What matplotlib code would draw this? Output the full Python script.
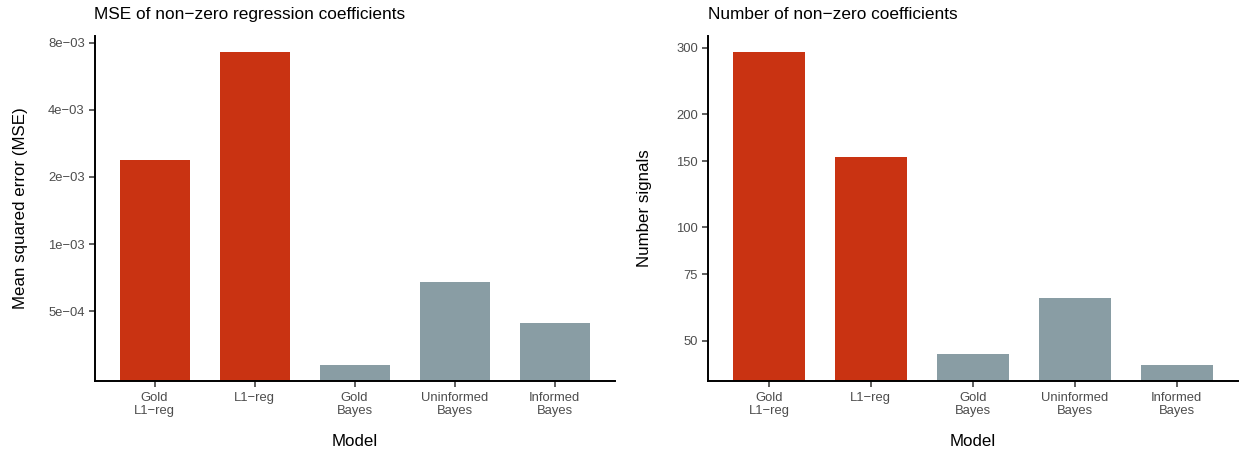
import numpy as np
import matplotlib
matplotlib.use("Agg")
import matplotlib.pyplot as plt
from matplotlib.ticker import FixedLocator, NullLocator

# Data
models = ["Gold\nL1\u2212reg", "L1\u2212reg", "Gold\nBayes", "Uninformed\nBayes", "Informed\nBayes"]
mse_values = [2.38e-3, 7.29e-3, 2.86e-4, 6.74e-4, 4.42e-4]
n_signals = [293, 154, 46, 65, 43]
is_l1 = [True, True, False, False, False]

mse_ticks = [5e-4, 1e-3, 2e-3, 4e-3, 8e-3]
mse_ticklabels = ["5e\u221204", "1e\u221203", "2e\u221203", "4e\u221203", "8e\u221203"]
sig_ticks = [50, 75, 100, 150, 200, 300]
sig_ticklabels = ["50", "75", "100", "150", "200", "300"]

RED = "#C93312"
GREY = "#899DA4"
colors = [RED if f else GREY for f in is_l1]

W, H = 1239, 453
fig = plt.figure(figsize=(W / 100, H / 100), dpi=100)
plt.rcParams["font.family"] = ["Liberation Sans", "DejaVu Sans"]

def panel(rect, values, ticks, ticklabels, title, ylabel, ylab_x):
    ax = fig.add_axes(rect)
    x = np.arange(1, len(values) + 1)
    vals = np.asarray(values, dtype=float)
    lo, hi = np.log10(vals.min()), np.log10(vals.max())
    pad = 0.05 * (hi - lo)
    ymin, ymax = 10 ** (lo - pad), 10 ** (hi + pad)
    ax.set_yscale("log")
    ax.bar(x, vals - ymin * 0.5, bottom=ymin * 0.5, width=0.7, color=colors,
           edgecolor="none", linewidth=0)
    ax.set_ylim(ymin, ymax)
    ax.set_xlim(0.4, len(values) + 0.6)
    ax.yaxis.set_major_locator(FixedLocator(ticks))
    ax.yaxis.set_minor_locator(NullLocator())
    ax.set_yticklabels(ticklabels)
    ax.set_xticks(x)
    ax.set_xticklabels(models, linespacing=1.12)
    for s in ("top", "right"):
        ax.spines[s].set_visible(False)
    for s in ("left", "bottom"):
        ax.spines[s].set_linewidth(1.4)
        ax.spines[s].set_color("black")
    ax.tick_params(axis="both", length=4, width=1.1, color="#333333",
                   labelsize=9.4, labelcolor="#4D4D4D")
    ax.tick_params(axis="x", pad=4)
    ax.tick_params(axis="y", pad=3)
    ax.set_ylabel(ylabel, fontsize=12.2, color="black", va="center")
    ax.yaxis.set_label_coords(ylab_x, 0.5)
    ax.set_xlabel("Model", fontsize=12.2, color="black", va="center")
    ax.xaxis.set_label_coords(0.5, -0.176)
    ax.text(0.0, 1.062, title, transform=ax.transAxes, ha="left", va="center",
            fontsize=12.4, color="black")
    return ax

b = (H - 381) / H
h = 345 / H
panel([94.5 / W, b, 520 / W, h], mse_values, mse_ticks, mse_ticklabels,
      "MSE of non\u2212zero regression coefficients", "Mean squared error (MSE)",
      (21 - 94.5) / 520)
panel([707.7 / W, b, 530.3 / W, h], n_signals, sig_ticks, sig_ticklabels,
      "Number of non\u2212zero coefficients", "Number signals",
      (645 - 707.7) / 530.3)

fig.savefig("out.png", dpi=100, facecolor="white")
